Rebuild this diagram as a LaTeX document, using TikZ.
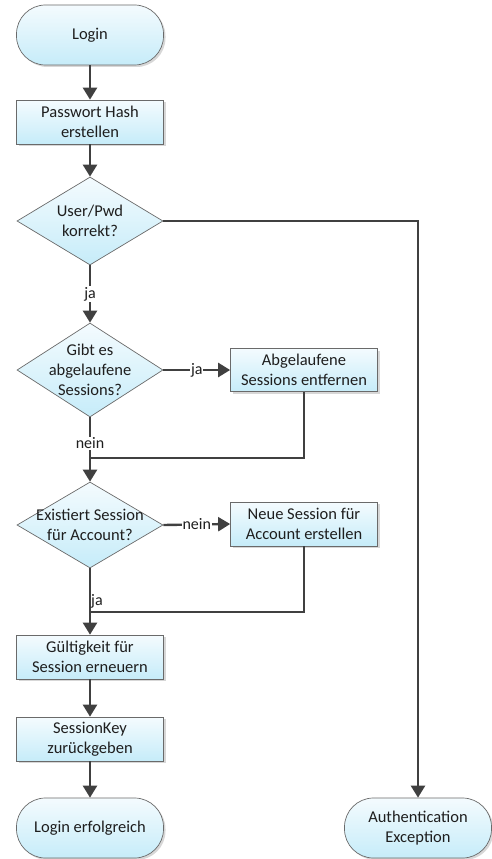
\documentclass[tikz,border=0pt]{standalone}
\usepackage{fontspec}
\setmainfont{Carlito}
\usetikzlibrary{arrows.meta,positioning,calc,shapes.geometric,shadows}
\definecolor{ink}{HTML}{1E1E1E}
\definecolor{edgegray}{HTML}{404040}
\definecolor{framegray}{HTML}{6A6A6A}
\definecolor{filltop}{HTML}{F4FBFE}
\definecolor{fillbot}{HTML}{C6ECF9}

\begin{document}
\begin{tikzpicture}[
  x=1pt,y=-1pt,font=\fontsize{16.5}{20}\selectfont,
  base/.style={draw=framegray,line width=.7pt,top color=filltop,bottom color=fillbot,text=ink,align=center,inner sep=0pt},
  process/.style={base,rectangle,minimum width=147pt,minimum height=44pt,
    drop shadow={shadow xshift=2pt,shadow yshift=-2pt,fill=black!35,opacity=.45}},
  terminal/.style={base,rectangle,rounded corners=29pt,minimum width=147pt,minimum height=60pt,
    drop shadow={shadow xshift=2pt,shadow yshift=-2pt,fill=black!35,opacity=.45}},
  decision/.style={base,diamond,aspect=1.62,minimum width=146pt,minimum height=88pt},
  caption/.style={align=center,text=ink},
  lab/.style={font=\fontsize{16}{18}\selectfont,text=ink,fill=white,inner sep=1pt},
  link/.style={draw=edgegray,line width=2.4pt},
  arrow/.style={link,-{Triangle[length=12pt,width=14pt]}}
]
\useasboundingbox (0,0) rectangle (492,859);

% main column
\node[terminal] (login) at (90,35) {Login};
\node[process] (hash) at (90,122) {Passwort Hash\\erstellen};
\node[decision] (check) at (90,221) {};
\node[caption] at (check) {User/Pwd\\korrekt?};
\node[decision,minimum height=94pt] (expired) at (90,370) {};
\node[caption] at (expired) {Gibt es\\abgelaufene\\Sessions?};
\node[decision,minimum height=86pt] (exists) at (90,525) {};
\node[caption] at (exists) {Existiert Session\\für Account?};
\node[process] (renew) at (90,657) {Gültigkeit für\\Session erneuern};
\node[process] (key) at (90,739) {SessionKey\\zurückgeben};
\node[terminal] (done) at (90,828) {Login erfolgreich};

% side branches
\node[process,minimum height=43pt] (remove) at (304,370) {Abgelaufene\\Sessions entfernen};
\node[process] (create) at (304,524) {Neue Session für\\Account erstellen};
\node[terminal] (fail) at (418,828) {Authentication\\Exception};

% joins
\coordinate (join1) at (90,458);
\coordinate (join2) at (90,612);

% connectors
\draw[arrow] (login) -- (hash);
\draw[arrow] (hash) -- (check);
\draw[arrow] (check.east) -| (fail.north);
\draw[arrow] (check.south) -- node[lab] {ja} (expired.north);
\draw[arrow] (expired.east) -- node[lab] {ja} (remove.west);
\draw[arrow] (expired.south) -- node[lab,pos=.4] {nein} (exists.north);
\draw[link] (remove.south) |- (join1);
\draw[arrow] (exists.east) -- node[lab] {nein} (create.west);
\draw[arrow] (exists.south) -- node[lab,fill=none,anchor=west,pos=.5,xshift=-1pt] {ja} (renew.north);
\draw[link] (create.south) |- (join2);
\draw[arrow] (renew) -- (key);
\draw[arrow] (key) -- (done);
\end{tikzpicture}
\end{document}
